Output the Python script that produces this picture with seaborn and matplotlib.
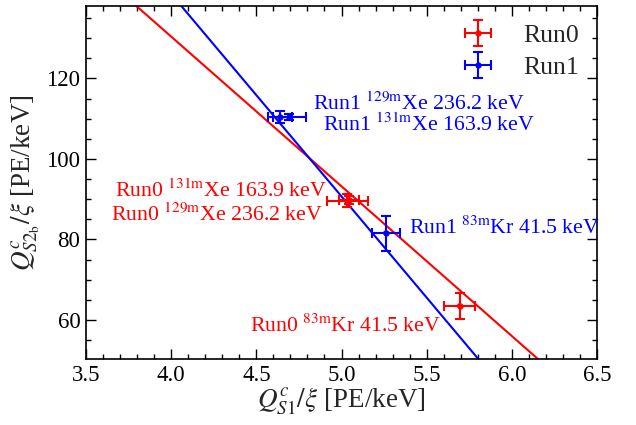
import numpy as np
import pandas as pd
import matplotlib
matplotlib.use("Agg")
import matplotlib.pyplot as plt
import seaborn as sns
from matplotlib.ticker import MultipleLocator

# Calibration sources and measured charge yields per unit energy
sources = ["83mKr", "131mXe", "129mXe"]
energies = ["41.5", "163.9", "236.2"]

run0_qs1 = [5.693, 5.035, 5.045]
run0_qs1_err = [0.09, 0.12, 0.06]
run0_qs2 = [63.5, 89.6, 89.8]
run0_qs2_err = [3.3, 1.6, 1.0]

run1_qs1 = [5.26, 4.693, 4.639]
run1_qs1_err = [0.081, 0.096, 0.07]
run1_qs2 = [81.6, 110.4, 110.4]
run1_qs2_err = [4.35, 0.8, 1.45]

# Linear anti-correlation fits: Q2 = intercept + slope * Q1
fit_intercept = {"Run0": 279.2, "Run1": 342.2}
fit_slope = {"Run0": -37.2, "Run1": -50.3}

colors = {"Run0": "#ff0000", "Run1": "#0000ff"}

points = pd.DataFrame({
    "run": ["Run0"] * 3 + ["Run1"] * 3,
    "source": sources * 2,
    "energy": energies * 2,
    "qs1": run0_qs1 + run1_qs1,
    "qs1_err": run0_qs1_err + run1_qs1_err,
    "qs2": run0_qs2 + run1_qs2,
    "qs2_err": run0_qs2_err + run1_qs2_err,
})

x_grid = np.array([3.5, 6.5])
lines = pd.DataFrame({
    "run": ["Run0"] * 2 + ["Run1"] * 2,
    "qs1": np.concatenate([x_grid, x_grid]),
    "qs2": np.concatenate([fit_intercept["Run0"] + fit_slope["Run0"] * x_grid,
                           fit_intercept["Run1"] + fit_slope["Run1"] * x_grid]),
})

sns.set_theme(style="ticks")
plt.rcParams["font.family"] = ["Liberation Serif", "DejaVu Serif"]
plt.rcParams["mathtext.fontset"] = "stix"
plt.rcParams["xtick.direction"] = "in"
plt.rcParams["ytick.direction"] = "in"

fig = plt.figure(figsize=(6.36, 4.25), dpi=100)
ax = fig.add_axes([0.1352, 0.1553, 0.8035, 0.8306])

sns.lineplot(data=lines, x="qs1", y="qs2", hue="run", palette=colors,
             linewidth=1.5, legend=False, ax=ax, zorder=2)

for run in ["Run0", "Run1"]:
    sub = points[points.run == run]
    ax.errorbar(sub.qs1, sub.qs2, xerr=sub.qs1_err, yerr=sub.qs2_err,
                fmt="o", ms=3.5, color=colors[run], ecolor=colors[run],
                elinewidth=1.5, capsize=3.5, capthick=1.5, label=run, zorder=3)

sns.scatterplot(data=points, x="qs1", y="qs2", hue="run", palette=colors,
                s=14, linewidth=0, legend=False, ax=ax, zorder=4)

ann_fs = 15.7
def label(run, src, en):
    iso, el = src[:-2], src[-2:]
    return f"{run} $^{{\\mathrm{{{iso}}}}}$" + f"{el} {en} keV"

ax.text(4.833, 112.05, label("Run1", "129mXe", "236.2"), color="blue",
        fontsize=ann_fs, ha="left", va="baseline")
ax.text(4.890, 106.9, label("Run1", "131mXe", "163.9"), color="blue",
        fontsize=ann_fs, ha="left", va="baseline")
ax.text(4.913, 90.6, label("Run0", "131mXe", "163.9"), color="red",
        fontsize=ann_fs, ha="right", va="baseline")
ax.text(4.892, 84.5, label("Run0", "129mXe", "236.2"), color="red",
        fontsize=ann_fs, ha="right", va="baseline")
ax.text(5.397, 81.5, label("Run1", "83mKr", "41.5"), color="blue",
        fontsize=ann_fs, ha="left", va="baseline")
ax.text(5.585, 57.0, label("Run0", "83mKr", "41.5"), color="red",
        fontsize=ann_fs, ha="right", va="baseline")

ax.set_xlim(3.5, 6.5)
ax.set_ylim(50.3, 138.0)
ax.xaxis.set_major_locator(MultipleLocator(0.5))
ax.xaxis.set_minor_locator(MultipleLocator(0.1))
ax.yaxis.set_major_locator(MultipleLocator(20))
ax.yaxis.set_minor_locator(MultipleLocator(5))
ax.tick_params(which="both", top=True, right=True, direction="in",
               labelsize=16.5, colors="black", width=1.0)
ax.tick_params(which="major", length=7, pad=4)
ax.tick_params(which="minor", length=3.5)
for s in ax.spines.values():
    s.set_linewidth(1.2)
    s.set_color("black")

ax.set_xlabel(r"$Q^{c}_{S1}/\xi$ [PE/keV]", fontsize=19.5, labelpad=0)
ax.set_ylabel(r"$Q^{c}_{S2_{\mathrm{b}}}/\xi$ [PE/keV]", fontsize=19.5, labelpad=3)

leg = ax.legend(loc="upper right", frameon=False, fontsize=18.5,
                handlelength=1.3, handletextpad=1.1, borderaxespad=0.3,
                labelspacing=0.35, borderpad=0.4)

fig.savefig("out.png", dpi=100)
